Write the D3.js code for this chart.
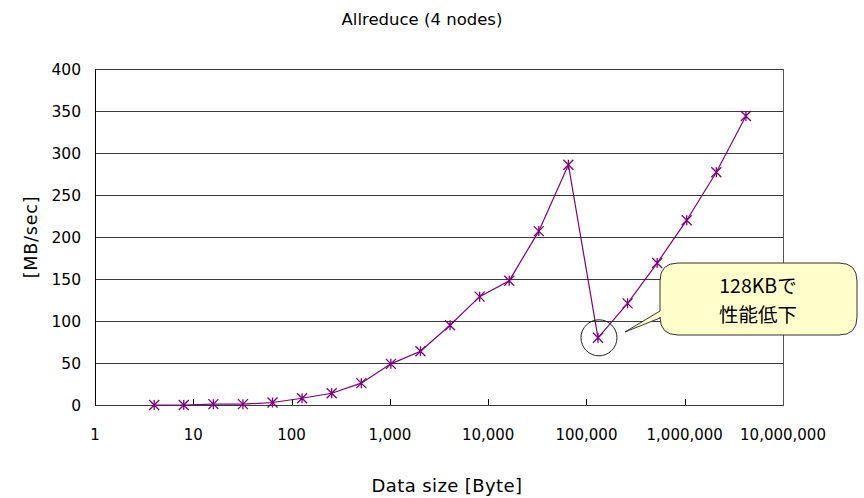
<!DOCTYPE html>
<html>
<head>
<meta charset="utf-8">
<script src="https://cdn.jsdelivr.net/npm/d3@7"></script>
<style>
  body { margin: 0; background: #fff; }
  text { font-family: "DejaVu Sans", sans-serif; fill: #000; }
</style>
</head>
<body>
<div id="chart"></div>
<script>
// data sizes (bytes) and measured throughput
var sizes = [4, 8, 16, 32, 64, 128, 256, 512, 1024, 2048, 4096, 8192, 16384,
  32768, 65536, 131072, 262144, 524288, 1048576, 2097152, 4194304];
var mbps = [0, 0, 1, 1, 3, 8, 14, 26, 49, 64, 95, 129, 148,
  207, 286, 80, 121, 169, 220, 277, 344];
var xTicks = [1, 10, 100, 1000, 10000, 100000, 1000000, 10000000];
var yTicks = [0, 50, 100, 150, 200, 250, 300, 350, 400];
var calloutLines = ['128KBで', '性能低下'];

var width = 864, height = 498;
var svg = d3.select('#chart').append('svg')
  .attr('width', width)
  .attr('height', height);

var x = d3.scaleLog().domain([1, 1e7]).range([95, 783]);
var y = d3.scaleLinear().domain([0, 400]).range([405, 69]);

var fmt = d3.format(',');

// grid
svg.append('g').selectAll('line').data(yTicks).enter().append('line')
  .attr('x1', 95).attr('x2', 783)
  .attr('y1', function(d) { return y(d) + 0.5; })
  .attr('y2', function(d) { return y(d) + 0.5; })
  .attr('stroke', '#3a3a3a').attr('stroke-width', 1);

// borders
svg.append('line').attr('x1', 95.5).attr('x2', 95.5).attr('y1', 69).attr('y2', 406)
  .attr('stroke', '#000');
svg.append('line').attr('x1', 783.5).attr('x2', 783.5).attr('y1', 69).attr('y2', 406)
  .attr('stroke', '#555');

// x tick marks (inside)
svg.append('g').selectAll('line').data(xTicks.slice(1, -1)).enter().append('line')
  .attr('x1', function(d) { return Math.round(x(d)) + 0.5; })
  .attr('x2', function(d) { return Math.round(x(d)) + 0.5; })
  .attr('y1', 399).attr('y2', 405)
  .attr('stroke', '#000');

// y labels
svg.append('g').selectAll('text').data(yTicks).enter().append('text')
  .attr('x', 81)
  .attr('y', function(d) { return y(d); })
  .attr('dy', '0.36em')
  .attr('text-anchor', 'end')
  .style('font-size', '15.5px')
  .text(function(d) { return d; });

// x labels
svg.append('g').selectAll('text').data(xTicks).enter().append('text')
  .attr('x', function(d) { return x(d); })
  .attr('y', 435)
  .attr('dy', '0.36em')
  .attr('text-anchor', 'middle')
  .style('font-size', '15px')
  .text(function(d) { return fmt(d); });

// titles
svg.append('text').attr('x', 422).attr('y', 19).attr('dy', '0.36em')
  .attr('text-anchor', 'middle').style('font-size', '16.5px')
  .text('Allreduce (4 nodes)');
svg.append('text').attr('x', 447).attr('y', 486).attr('dy', '0.36em')
  .attr('text-anchor', 'middle').style('font-size', '18px')
  .style('letter-spacing', '0.4px')
  .text('Data size [Byte]');
svg.append('text')
  .attr('transform', 'translate(31,237) rotate(-90)')
  .attr('dy', '0.36em')
  .attr('text-anchor', 'middle').style('font-size', '17.5px')
  .style('letter-spacing', '0.8px')
  .text('[MB/sec]');

var pts = sizes.map(function(s, i) { return [s, mbps[i]]; });

// line
svg.append('path').datum(pts)
  .attr('fill', 'none')
  .attr('stroke', '#800080')
  .attr('stroke-width', 1.2)
  .attr('d', d3.line().x(function(d) { return x(d[0]); }).y(function(d) { return y(d[1]); }));

// asterisk markers
var r = 5;
svg.append('g').selectAll('path').data(pts).enter().append('path')
  .attr('transform', function(d) { return 'translate(' + x(d[0]) + ',' + y(d[1]) + ')'; })
  .attr('d', 'M' + (-r) + ',' + (-r) + 'L' + r + ',' + r +
    'M' + (-r) + ',' + r + 'L' + r + ',' + (-r) +
    'M0,' + (-r) + 'L0,' + r)
  .attr('stroke', '#800080')
  .attr('stroke-width', 1.3)
  .attr('fill', 'none');

// circle around the dip
var dip = pts[15];
svg.append('circle')
  .attr('cx', x(dip[0]) + 1).attr('cy', y(dip[1]))
  .attr('r', 18)
  .attr('fill', 'none')
  .attr('stroke', '#222')
  .attr('stroke-width', 1);

// callout balloon
var bx = 660, by = 263, bw = 197, bh = 72, br = 18;
svg.append('path')
  .attr('d', 'M' + (bx + br) + ',' + by +
    'H' + (bx + bw - br) + 'Q' + (bx + bw) + ',' + by + ' ' + (bx + bw) + ',' + (by + br) +
    'V' + (by + bh - br) + 'Q' + (bx + bw) + ',' + (by + bh) + ' ' + (bx + bw - br) + ',' + (by + bh) +
    'H' + (bx + br) + 'Q' + bx + ',' + (by + bh) + ' ' + bx + ',' + (by + bh - br) +
    'V' + (by + bh - 17) + 'L625,332' + 'L' + bx + ',' + (by + 48) +
    'V' + (by + br) + 'Q' + bx + ',' + by + ' ' + (bx + br) + ',' + by + 'Z')
  .attr('fill', '#ffffcc')
  .attr('stroke', '#333')
  .attr('stroke-width', 1);

svg.append('g').selectAll('text').data(calloutLines).enter().append('text')
  .attr('x', 758)
  .attr('y', function(d, i) { return 286 + i * 29; })
  .attr('dy', '0.36em')
  .attr('text-anchor', 'middle')
  .style('font-family', '"Noto Sans CJK JP", sans-serif')
  .style('font-size', '19.5px')
  .text(function(d) { return d; });
</script>
</body>
</html>
